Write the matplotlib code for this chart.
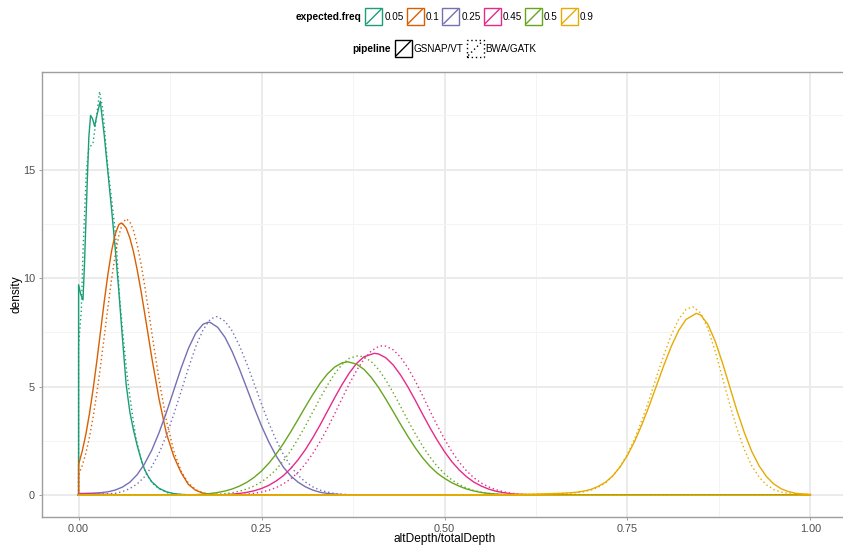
import matplotlib
matplotlib.use("Agg")
import matplotlib.pyplot as plt
from matplotlib.patches import Rectangle
from matplotlib.lines import Line2D

plt.rcParams['font.family'] = ['Liberation Sans', 'DejaVu Sans']

# ---- data: density of altDepth/totalDepth per expected frequency and pipeline ----
freqs = ["0.05", "0.1", "0.25", "0.45", "0.5", "0.9"]
pipelines = ["GSNAP/VT", "BWA/GATK"]
freq_colors = ["#1B9E77", "#D95F02", "#7570B3", "#E7298A", "#66A61E", "#E6AB02"]

x_ticks = [0.0, 0.25, 0.5, 0.75, 1.0]
x_tick_labels = ["0.00", "0.25", "0.50", "0.75", "1.00"]
y_ticks = [0, 5, 10, 15]
y_tick_labels = ["0", "5", "10", "15"]

# (altDepth/totalDepth, density) pairs
f005_gsnap = [(0, 9.7), (0.003, 9.25), (0.006, 9.0), (0.008, 10.6), (0.01, 12.6), (0.012, 14.6),
              (0.014, 16.5), (0.0164, 17.5), (0.019, 17.35), (0.0219, 17.0), (0.025, 17.5),
              (0.0296, 18.15), (0.035, 16.6), (0.04, 14.9), (0.045, 13.2), (0.05, 11.4),
              (0.055, 9.4), (0.06, 7.2), (0.065, 5.1), (0.07, 3.85), (0.075, 3.0), (0.08, 2.3),
              (0.085, 1.7), (0.09, 1.2), (0.095, 0.88), (0.1, 0.62), (0.11, 0.32), (0.12, 0.16),
              (0.13, 0.08), (0.14, 0.04), (0.16, 0.01), (0.2, 0.0), (1.0, 0.0)]
f005_bwa = [(0, 6.9), (0.0037, 8.5), (0.006, 11.2), (0.0105, 14.9), (0.014, 16.0), (0.0196, 16.2),
            (0.024, 17.3), (0.0287, 18.6), (0.033, 17.8), (0.04, 15.1), (0.049, 12.5),
            (0.0515, 11.6), (0.056, 9.1), (0.0605, 7.46), (0.066, 5.6), (0.072, 4.07),
            (0.078, 2.7), (0.0856, 1.6), (0.093, 0.95), (0.1015, 0.54), (0.11, 0.3),
            (0.124, 0.08), (0.15, 0.02), (0.2, 0.0), (1.0, 0.0)]

f01_gsnap = [(0, 1.42), (0.005, 2.04), (0.01, 2.82), (0.015, 3.79), (0.02, 4.93), (0.025, 6.2),
             (0.03, 7.55), (0.035, 8.91), (0.04, 10.17), (0.045, 11.24), (0.05, 12.03),
             (0.055, 12.47), (0.058, 12.54), (0.06, 12.52), (0.065, 12.31), (0.07, 11.86),
             (0.075, 11.22), (0.08, 10.4), (0.085, 9.47), (0.09, 8.45), (0.095, 7.4), (0.1, 6.35),
             (0.11, 4.42), (0.12, 2.85), (0.13, 1.8), (0.14, 1.05), (0.15, 0.5), (0.16, 0.23),
             (0.17, 0.1), (0.18, 0.05), (0.2, 0.02), (0.25, 0.01), (0.3, 0.005), (1.0, 0.0)]
f01_bwa = [(0, 0.93), (0.005, 1.37), (0.01, 1.95), (0.015, 2.7), (0.02, 3.63), (0.025, 4.73),
           (0.03, 5.96), (0.035, 7.29), (0.04, 8.65), (0.045, 9.94), (0.05, 11.08), (0.055, 11.97),
           (0.06, 12.54), (0.065, 12.74), (0.07, 12.6), (0.075, 12.2), (0.08, 11.56),
           (0.085, 10.72), (0.09, 9.72), (0.095, 8.63), (0.1, 7.5), (0.11, 5.31), (0.12, 3.44),
           (0.13, 2.05), (0.14, 1.12), (0.15, 0.56), (0.16, 0.26), (0.17, 0.11), (0.18, 0.05),
           (0.2, 0.02), (0.25, 0.01), (0.3, 0.005), (1.0, 0.0)]

f025_gsnap = [(0, 0.08), (0.01, 0.09), (0.02, 0.1), (0.03, 0.12), (0.04, 0.16), (0.05, 0.24),
              (0.06, 0.38), (0.07, 0.6), (0.08, 0.95), (0.09, 1.44), (0.1, 2.08), (0.11, 2.89),
              (0.12, 3.82), (0.13, 4.83), (0.14, 5.85), (0.15, 6.76), (0.16, 7.47), (0.17, 7.88),
              (0.177, 7.97), (0.18, 7.96), (0.19, 7.74), (0.2, 7.28), (0.21, 6.61), (0.22, 5.8),
              (0.23, 4.92), (0.24, 4.03), (0.25, 3.19), (0.26, 2.45), (0.27, 1.81), (0.28, 1.29),
              (0.29, 0.89), (0.3, 0.6), (0.31, 0.39), (0.32, 0.24), (0.33, 0.14), (0.34, 0.085),
              (0.36, 0.03), (0.38, 0.01), (0.4, 0.005), (1.0, 0.0)]
f025_bwa = [(0, 0.05), (0.02, 0.06), (0.04, 0.07), (0.05, 0.09), (0.06, 0.17), (0.07, 0.31),
            (0.08, 0.52), (0.09, 0.85), (0.1, 1.32), (0.11, 1.95), (0.12, 2.76), (0.13, 3.72),
            (0.14, 4.78), (0.15, 5.85), (0.16, 6.84), (0.17, 7.62), (0.18, 8.11), (0.188, 8.23),
            (0.19, 8.22), (0.2, 8.02), (0.21, 7.56), (0.22, 6.88), (0.23, 6.05), (0.24, 5.13),
            (0.25, 4.2), (0.26, 3.32), (0.27, 2.54), (0.28, 1.87), (0.29, 1.33), (0.3, 0.92),
            (0.31, 0.61), (0.32, 0.39), (0.33, 0.24), (0.34, 0.15), (0.35, 0.08), (0.37, 0.03),
            (0.4, 0.01), (0.45, 0.0), (1.0, 0.0)]

f045_gsnap = [(0, 0.08), (0.05, 0.03), (0.1, 0.01), (0.16, 0.003), (0.18, 0.011), (0.2, 0.032),
              (0.21, 0.053), (0.22, 0.086), (0.23, 0.136), (0.24, 0.209), (0.25, 0.314),
              (0.26, 0.46), (0.27, 0.66), (0.28, 0.91), (0.29, 1.24), (0.3, 1.64), (0.31, 2.11),
              (0.32, 2.65), (0.33, 3.24), (0.34, 3.87), (0.35, 4.5), (0.36, 5.1), (0.37, 5.64),
              (0.38, 6.08), (0.39, 6.38), (0.404, 6.54), (0.41, 6.51), (0.42, 6.33), (0.43, 6.0),
              (0.44, 5.54), (0.45, 4.99), (0.46, 4.38), (0.47, 3.74), (0.48, 3.12), (0.49, 2.54),
              (0.5, 2.01), (0.51, 1.55), (0.52, 1.17), (0.53, 0.86), (0.54, 0.61), (0.55, 0.43),
              (0.56, 0.29), (0.57, 0.19), (0.58, 0.124), (0.59, 0.078), (0.6, 0.048),
              (0.62, 0.017), (0.64, 0.005), (0.66, 0.0), (1.0, 0.0)]
f045_bwa = [(0, 0.04), (0.05, 0.015), (0.1, 0.005), (0.18, 0.003), (0.2, 0.011), (0.21, 0.019),
            (0.22, 0.033), (0.23, 0.056), (0.24, 0.093), (0.25, 0.15), (0.26, 0.234),
            (0.27, 0.357), (0.28, 0.53), (0.29, 0.76), (0.3, 1.06), (0.31, 1.45), (0.32, 1.92),
            (0.33, 2.47), (0.34, 3.09), (0.35, 3.76), (0.36, 4.46), (0.37, 5.14), (0.38, 5.76),
            (0.39, 6.27), (0.4, 6.65), (0.41, 6.86), (0.416, 6.89), (0.42, 6.87), (0.43, 6.7),
            (0.44, 6.36), (0.45, 5.87), (0.46, 5.27), (0.47, 4.6), (0.48, 3.9), (0.49, 3.22),
            (0.5, 2.59), (0.51, 2.02), (0.52, 1.53), (0.53, 1.13), (0.54, 0.81), (0.55, 0.57),
            (0.56, 0.39), (0.57, 0.26), (0.58, 0.165), (0.59, 0.1), (0.6, 0.063), (0.62, 0.021),
            (0.64, 0.006), (0.66, 0.0), (1.0, 0.0)]

f05_gsnap = [(0, 0.02), (0.1, 0.01), (0.12, 0.01), (0.14, 0.015), (0.16, 0.031), (0.17, 0.051),
             (0.18, 0.082), (0.19, 0.129), (0.2, 0.196), (0.21, 0.292), (0.22, 0.425), (0.23, 0.6),
             (0.24, 0.83), (0.25, 1.12), (0.26, 1.48), (0.27, 1.9), (0.28, 2.39), (0.29, 2.93),
             (0.3, 3.5), (0.31, 4.08), (0.32, 4.64), (0.33, 5.16), (0.34, 5.59), (0.35, 5.91),
             (0.36, 6.1), (0.368, 6.15), (0.38, 6.04), (0.39, 5.8), (0.4, 5.43), (0.41, 4.96),
             (0.42, 4.42), (0.43, 3.85), (0.44, 3.27), (0.45, 2.71), (0.46, 2.19), (0.47, 1.73),
             (0.48, 1.34), (0.49, 1.02), (0.5, 0.78), (0.51, 0.58), (0.52, 0.42), (0.53, 0.29),
             (0.54, 0.2), (0.55, 0.13), (0.56, 0.085), (0.58, 0.035), (0.6, 0.015), (0.65, 0.004),
             (1.0, 0.0)]
f05_bwa = [(0, 0.01), (0.14, 0.005), (0.16, 0.009), (0.18, 0.027), (0.19, 0.045), (0.2, 0.075),
           (0.21, 0.12), (0.22, 0.19), (0.23, 0.29), (0.24, 0.43), (0.25, 0.62), (0.26, 0.87),
           (0.27, 1.19), (0.28, 1.59), (0.29, 2.06), (0.3, 2.61), (0.31, 3.2), (0.32, 3.84),
           (0.33, 4.47), (0.34, 5.07), (0.35, 5.6), (0.36, 6.03), (0.37, 6.31), (0.382, 6.43),
           (0.39, 6.37), (0.4, 6.16), (0.41, 5.79), (0.42, 5.3), (0.43, 4.72), (0.44, 4.09),
           (0.45, 3.45), (0.46, 2.84), (0.47, 2.27), (0.48, 1.77), (0.49, 1.34), (0.5, 0.99),
           (0.51, 0.71), (0.52, 0.5), (0.53, 0.34), (0.54, 0.22), (0.55, 0.145), (0.56, 0.09),
           (0.58, 0.033), (0.6, 0.011), (0.65, 0.0), (1.0, 0.0)]

f09_gsnap = [(0, 0.0), (0.5, 0.005), (0.55, 0.02), (0.6, 0.04), (0.62, 0.05), (0.64, 0.07),
             (0.65, 0.08), (0.66, 0.09), (0.67, 0.11), (0.68, 0.14), (0.69, 0.19), (0.7, 0.27),
             (0.71, 0.41), (0.72, 0.6), (0.73, 0.9), (0.74, 1.31), (0.75, 1.84), (0.76, 2.5),
             (0.77, 3.28), (0.78, 4.15), (0.79, 5.08), (0.8, 6.01), (0.81, 6.87), (0.82, 7.59),
             (0.83, 8.1), (0.844, 8.38), (0.85, 8.31), (0.86, 7.87), (0.87, 7.09), (0.88, 6.08),
             (0.89, 4.97), (0.9, 3.86), (0.91, 2.86), (0.92, 2.01), (0.93, 1.35), (0.94, 0.86),
             (0.95, 0.52), (0.96, 0.3), (0.97, 0.17), (0.98, 0.09), (0.99, 0.06), (1.0, 0.04)]
f09_bwa = [(0, 0.0), (0.5, 0.005), (0.55, 0.02), (0.6, 0.04), (0.62, 0.05), (0.64, 0.07),
           (0.65, 0.08), (0.66, 0.09), (0.67, 0.1), (0.68, 0.12), (0.69, 0.16), (0.7, 0.24),
           (0.71, 0.37), (0.72, 0.57), (0.73, 0.89), (0.74, 1.32), (0.75, 1.89), (0.76, 2.62),
           (0.77, 3.48), (0.78, 4.45), (0.79, 5.48), (0.8, 6.49), (0.81, 7.39), (0.82, 8.11),
           (0.83, 8.56), (0.839, 8.69), (0.85, 8.4), (0.86, 7.67), (0.87, 6.62), (0.88, 5.4),
           (0.89, 4.16), (0.9, 3.03), (0.91, 2.08), (0.92, 1.35), (0.93, 0.83), (0.94, 0.48),
           (0.95, 0.26), (0.96, 0.15), (0.97, 0.09), (0.98, 0.07), (0.99, 0.06), (1.0, 0.05)]

densities = {
    "0.05": (f005_gsnap, f005_bwa),
    "0.1": (f01_gsnap, f01_bwa),
    "0.25": (f025_gsnap, f025_bwa),
    "0.45": (f045_gsnap, f045_bwa),
    "0.5": (f05_gsnap, f05_bwa),
    "0.9": (f09_gsnap, f09_bwa),
}

# ---- styling ----
W, H = 843, 550
DOTTED = (0, (1, 2))
line_styles = ["-", DOTTED]
LW = 1.0

fig = plt.figure(figsize=(W / 100, H / 100), dpi=100)
fig.patch.set_facecolor("white")

# panel spans pixels x 42..847, y 72..517
ax = fig.add_axes([42 / W, (H - 517) / H, 805 / W, 445 / H])
ax.set_xlim(-0.05, 1.05)
ax.set_ylim(-1.0, 19.5)

ax.set_xticks(x_ticks)
ax.set_xticklabels(x_tick_labels)
ax.set_yticks(y_ticks)
ax.set_yticklabels(y_tick_labels)
ax.set_xticks([0.125, 0.375, 0.625, 0.875], minor=True)
ax.set_yticks([2.5, 7.5, 12.5, 17.5], minor=True)

ax.grid(which="major", color="#EBEBEB", linewidth=1.4)
ax.grid(which="minor", color="#F4F4F4", linewidth=0.7)
ax.set_axisbelow(True)

for s in ax.spines.values():
    s.set_color("#9E9E9E")
    s.set_linewidth(1.0)

ax.tick_params(which="major", length=2.5, width=0.7, color="#9E9E9E",
               labelsize=7.8, labelcolor="#4D4D4D", pad=2.5)
ax.tick_params(which="minor", length=0)

ax.set_xlabel("altDepth/totalDepth", fontsize=8.6, labelpad=-0.5)
ax.set_ylabel("density", fontsize=8.6, labelpad=0.5)

# density outlines (closed down to the baseline, as geom_density draws them)
for f, col in zip(freqs, freq_colors):
    for pts, ls in zip(densities[f], line_styles):
        xs = [0.0] + [p[0] for p in pts] + [1.0, 0.0]
        ys = [0.0] + [p[1] for p in pts] + [0.0, 0.0]
        ax.plot(xs, ys, color=col, linestyle=ls, linewidth=LW,
                solid_joinstyle="round", clip_on=True)

# ---- legends on top, centred over the panel ----
renderer = fig.canvas.get_renderer()
CX = (42 + 847) / 2
KEY = 17


def fx(px):
    return px / W


def fy(py):
    return (H - py) / H


def text_width(s, **kw):
    t = fig.text(0, 0, s, **kw)
    w = t.get_window_extent(renderer).width
    t.remove()
    return w


def legend_row(title, labels, colors, styles, ycen):
    title_kw = dict(fontsize=7.3, fontweight="bold")
    lab_kw = dict(fontsize=7.1)
    tw = text_width(title, **title_kw)
    lws = [text_width(l, **lab_kw) for l in labels]
    total = tw + 4 + sum(KEY + 2 + w + 3 for w in lws) - 3
    x = CX - total / 2
    fig.text(fx(x), fy(ycen), title, ha="left", va="center", **title_kw)
    x += tw + 4
    for lab, w, c, ls in zip(labels, lws, colors, styles):
        y0 = ycen + KEY / 2
        fig.add_artist(Rectangle((fx(x), fy(y0)), KEY / W, KEY / H, fill=False,
                                 edgecolor=c, linewidth=LW, linestyle=ls,
                                 transform=fig.transFigure))
        fig.add_artist(Line2D([fx(x + 1.5), fx(x + KEY - 1.5)],
                              [fy(y0 - 1.5), fy(y0 - KEY + 1.5)],
                              color=c, linewidth=LW, linestyle=ls,
                              transform=fig.transFigure))
        x += KEY + 2
        fig.text(fx(x), fy(ycen), lab, ha="left", va="center", **lab_kw)
        x += w + 3


legend_row("expected.freq", freqs, freq_colors, ["-"] * len(freqs), 16.5)
legend_row("pipeline", pipelines, ["black", "black"], line_styles, 48.5)

fig.savefig("out.png", dpi=100, facecolor="white")
